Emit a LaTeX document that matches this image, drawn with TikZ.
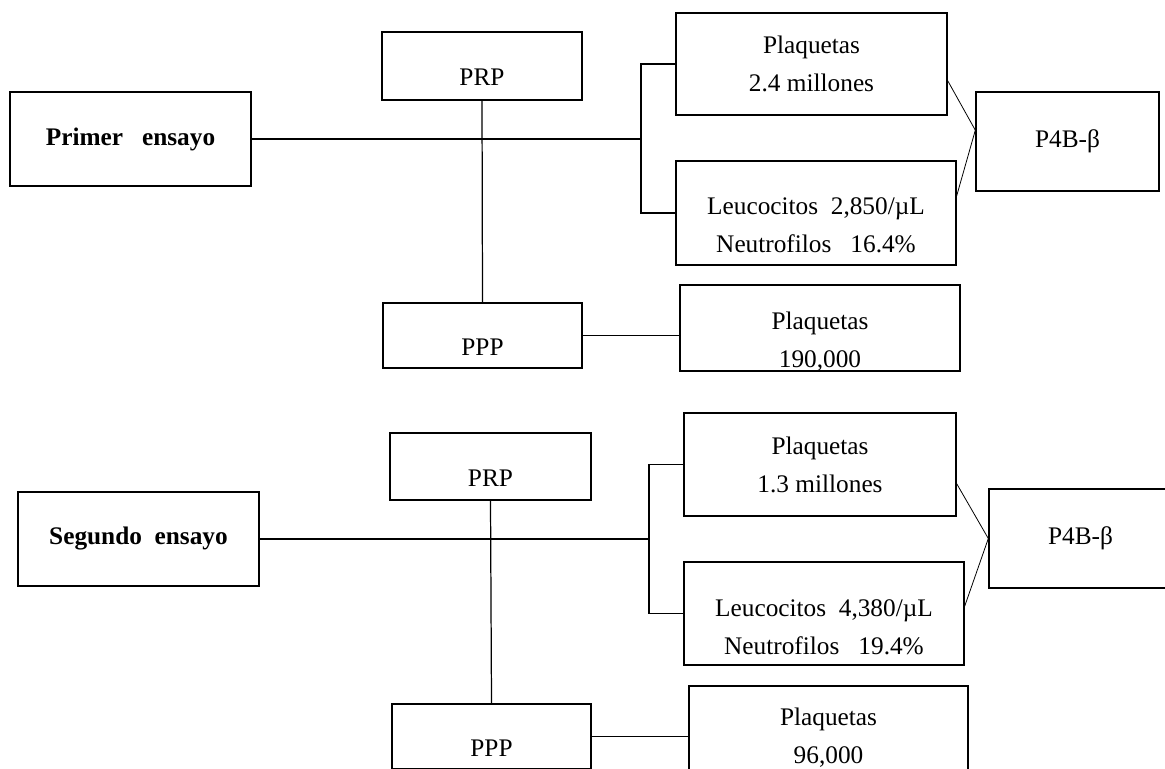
\documentclass[tikz,border=0pt]{standalone}
\usepackage{fontspec}
\setmainfont{Liberation Serif}
\usepackage{tikz}

\begin{document}
\begin{tikzpicture}
[x=0.02cm, y=-0.02cm]
\tikzset{
	txt/.style = {align=center, inner sep=0pt, font=\fontsize{14.4}{21.6}\selectfont},
	box/.style = {txt, draw, line width=0.8pt},
	trial/.style = {box, font=\fontsize{14.4}{21.6}\selectfont\bfseries},
	boxsize/.style 2 args = {minimum width=#1*0.02cm, minimum height=#2*0.02cm},
	main/.style = {line width=1.3pt},
	branch/.style = {line width=0.7pt},
	link/.style = {line width=0.45pt}
}
\useasboundingbox (0,0) rectangle (1165,768);

% primer ensayo
\node(t1) [trial, boxsize={241}{94}] at (130.5,139) {Primer\ \ \ ensayo};
\node(prp1) [box, boxsize={200}{68}, label={[txt, yshift=-0.22cm]center:PRP}] at (482,66) {};
\node(ppp1) [box, boxsize={199}{65}, label={[txt, yshift=-0.23cm]center:PPP}] at (482.5,335.5) {};
\node(plaq1) [box, boxsize={271}{102}] at (811.5,64) {Plaquetas\\2.4 millones};
\node(leuc1) [box, boxsize={280}{104},
	label={[txt, yshift=-0.25cm]center:{Leucocitos\ \ 2,850/µL\\Neutrofilos\ \ \ 16.4\%}}] at (816,213) {};
\node(plt1) [box, boxsize={280}{86},
	label={[txt, yshift=-0.27cm]center:{Plaquetas\\190,000}}] at (820,328) {};
\node(p4b1) [box, boxsize={183}{99}] at (1067.5,141.5) {P4B-β};

\coordinate(b1) at (641,139);
\draw[main] (t1) -- (b1);
\draw[branch] (plaq1.west) -| (b1) |- (leuc1.west);
\draw[branch] (prp1.south) -- (ppp1.north);
\draw[branch] (ppp1.east) -- (plt1.west |- ppp1.east);
\draw[link] (plaq1.-7) -- (p4b1.173) -- (leuc1.7);

% segundo ensayo
\node(t2) [trial, boxsize={241}{94}] at (138.5,539) {Segundo\ \ ensayo};
\node(prp2) [box, boxsize={201}{67}, label={[txt, yshift=-0.23cm]center:PRP}] at (490.5,466.5) {};
\node(ppp2) [box, boxsize={199}{65}, label={[txt, yshift=-0.23cm]center:PPP}] at (491.5,736.5) {};
\node(plaq2) [box, boxsize={272}{103}] at (820,464.5) {Plaquetas\\1.3 millones};
\node(leuc2) [box, boxsize={280}{103},
	label={[txt, yshift=-0.28cm]center:{Leucocitos\ \ 4,380/µL\\Neutrofilos\ \ \ 19.4\%}}] at (824,613.5) {};
\node(plt2) [box, boxsize={279}{86},
	label={[txt, yshift=-0.17cm]center:{Plaquetas\\96,000}}] at (828.5,729) {};
\node(p4b2) [box, boxsize={183}{99}] at (1080.5,538.5) {P4B-β};

\coordinate(b2) at (649,539);
\draw[main] (t2) -- (b2);
\draw[branch] (plaq2.west) -| (b2) |- (leuc2.west);
\draw[branch] (prp2.south) -- (ppp2.north);
\draw[branch] (ppp2.east) -- (plt2.west |- ppp2.east);
\draw[link] (plaq2.-8) -- (p4b2.west) -- (leuc2.3);

\end{tikzpicture}
\end{document}
